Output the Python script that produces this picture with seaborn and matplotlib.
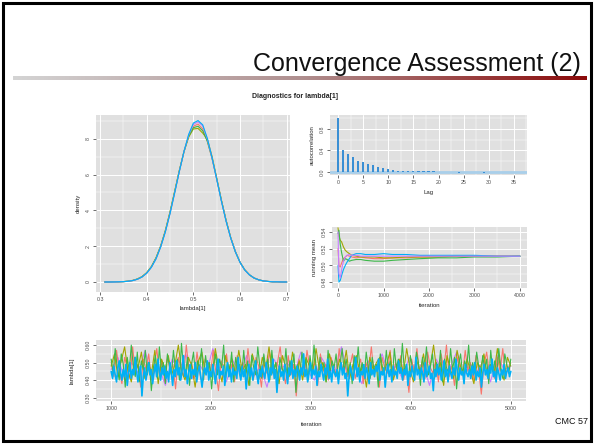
import numpy as np
import pandas as pd
import matplotlib
matplotlib.use("Agg")
import matplotlib.pyplot as plt
from matplotlib.patches import Rectangle
from matplotlib.colors import LinearSegmentedColormap
from matplotlib.ticker import MultipleLocator
import seaborn as sns

# ---------------- data ----------------
chains = ["1", "2", "3", "4", "5"]
chain_colors = ["#F8766D", "#A3A500", "#3DB84A", "#00B0F6", "#C77CFF"]

dens_x = [0.31, 0.32, 0.33, 0.34, 0.35, 0.36, 0.37, 0.38, 0.39, 0.40,
          0.41, 0.42, 0.43, 0.44, 0.45, 0.46, 0.47, 0.48, 0.49, 0.50,
          0.51, 0.52, 0.53, 0.54, 0.55, 0.56, 0.57, 0.58, 0.59, 0.60,
          0.61, 0.62, 0.63, 0.64, 0.65, 0.66, 0.67, 0.68, 0.69, 0.70]
dens_1 = [0.00, 0.00, 0.01, 0.01, 0.02, 0.04, 0.08, 0.16, 0.29, 0.50,
          0.84, 1.32, 1.99, 2.84, 3.86, 5.02, 6.20, 7.28, 8.15, 8.70,
          8.82, 8.55, 7.86, 6.90, 5.75, 4.55, 3.44, 2.47, 1.70, 1.10,
          0.68, 0.40, 0.23, 0.12, 0.06, 0.03, 0.01, 0.01, 0.00, 0.00]
dens_2 = [0.00, 0.00, 0.01, 0.01, 0.02, 0.05, 0.09, 0.17, 0.30, 0.52,
          0.86, 1.35, 2.02, 2.88, 3.92, 5.08, 6.25, 7.30, 8.10, 8.55,
          8.58, 8.32, 7.98, 7.02, 5.80, 4.58, 3.45, 2.48, 1.70, 1.10,
          0.68, 0.40, 0.22, 0.12, 0.06, 0.03, 0.01, 0.01, 0.00, 0.00]
dens_3 = [0.00, 0.00, 0.01, 0.01, 0.02, 0.04, 0.08, 0.16, 0.29, 0.51,
          0.85, 1.34, 2.00, 2.86, 3.90, 5.05, 6.22, 7.30, 8.15, 8.62,
          8.70, 8.45, 7.85, 6.92, 5.78, 4.57, 3.45, 2.48, 1.69, 1.10,
          0.68, 0.40, 0.22, 0.12, 0.06, 0.03, 0.01, 0.01, 0.00, 0.00]
dens_4 = [0.00, 0.00, 0.00, 0.01, 0.02, 0.04, 0.08, 0.15, 0.28, 0.49,
          0.82, 1.29, 1.96, 2.80, 3.82, 4.98, 6.18, 7.30, 8.25, 8.88,
          9.02, 8.78, 8.02, 6.95, 5.74, 4.52, 3.40, 2.45, 1.68, 1.09,
          0.67, 0.40, 0.22, 0.12, 0.06, 0.03, 0.01, 0.01, 0.00, 0.00]
dens_5 = [0.00, 0.00, 0.00, 0.01, 0.02, 0.04, 0.08, 0.15, 0.28, 0.49,
          0.82, 1.30, 1.97, 2.82, 3.84, 5.00, 6.19, 7.30, 8.22, 8.80,
          8.95, 8.72, 7.98, 6.93, 5.74, 4.53, 3.42, 2.46, 1.69, 1.09,
          0.67, 0.40, 0.22, 0.12, 0.06, 0.03, 0.01, 0.01, 0.00, 0.00]

acf_lag = list(range(37))
acf_val = [1.00, 0.40, 0.34, 0.28, 0.21, 0.19, 0.15, 0.13, 0.09, 0.07,
           0.05, 0.035, 0.025, 0.02, 0.015, 0.02, 0.012, 0.015, 0.01, 0.01,
           0.005, 0.008, 0.004, 0.006, -0.01, 0.002, -0.008, 0.004, 0.003, -0.01,
           0.002, -0.005, 0.004, -0.006, 0.003, -0.004, 0.002]

rm_iter = [1, 20, 50, 80, 120, 160, 200, 250, 300, 400, 500, 600, 800,
           1000, 1200, 1500, 1800, 2200, 2600, 3000, 3500, 4000]
rm_1 = [0.520, 0.500, 0.498, 0.503, 0.508, 0.510, 0.512, 0.511, 0.510, 0.509, 0.510,
        0.509, 0.508, 0.508, 0.509, 0.509, 0.510, 0.510, 0.511, 0.511, 0.511, 0.511]
rm_2 = [0.545, 0.535, 0.530, 0.528, 0.522, 0.518, 0.516, 0.514, 0.512, 0.511, 0.510,
        0.510, 0.510, 0.509, 0.509, 0.510, 0.510, 0.510, 0.511, 0.511, 0.511, 0.511]
rm_3 = [0.538, 0.542, 0.525, 0.515, 0.505, 0.508, 0.507, 0.505, 0.506, 0.507, 0.507,
        0.506, 0.505, 0.505, 0.506, 0.507, 0.508, 0.509, 0.509, 0.510, 0.510, 0.511]
rm_4 = [0.500, 0.480, 0.482, 0.488, 0.495, 0.500, 0.504, 0.508, 0.512, 0.514, 0.514,
        0.513, 0.513, 0.514, 0.513, 0.513, 0.512, 0.512, 0.512, 0.512, 0.511, 0.511]
rm_5 = [0.540, 0.490, 0.485, 0.495, 0.505, 0.510, 0.512, 0.513, 0.512, 0.512, 0.511,
        0.511, 0.511, 0.511, 0.511, 0.511, 0.511, 0.511, 0.511, 0.511, 0.511, 0.511]

trace_1 = [0.50, 0.42, 0.57, 0.45, 0.38, 0.53, 0.47, 0.41, 0.59, 0.44,
           0.49, 0.36, 0.52, 0.46, 0.55, 0.40, 0.48, 0.58, 0.43, 0.51,
           0.39, 0.54, 0.45, 0.49, 0.35, 0.53, 0.47, 0.42, 0.60, 0.46,
           0.50, 0.41, 0.56, 0.44, 0.38, 0.52, 0.48, 0.43, 0.57, 0.45,
           0.34, 0.51, 0.47, 0.55, 0.42, 0.49, 0.39, 0.54, 0.46, 0.50,
           0.43, 0.58, 0.45, 0.40, 0.53, 0.48, 0.36, 0.52, 0.44, 0.56,
           0.47, 0.41, 0.50, 0.59, 0.45, 0.38, 0.54, 0.43, 0.49, 0.31,
           0.52, 0.46, 0.42, 0.57, 0.48, 0.44, 0.51, 0.37, 0.55, 0.45,
           0.49, 0.40, 0.53, 0.47, 0.43, 0.58, 0.46, 0.51, 0.42, 0.48,
           0.55, 0.41, 0.47, 0.52, 0.38, 0.50, 0.45, 0.59, 0.43, 0.49,
           0.36, 0.53, 0.47, 0.44, 0.57, 0.41, 0.50, 0.46, 0.54, 0.40,
           0.48, 0.33, 0.52, 0.45, 0.58, 0.43, 0.49, 0.41, 0.56, 0.47,
           0.44, 0.51, 0.39, 0.55, 0.46, 0.60, 0.42, 0.48, 0.37, 0.53,
           0.47, 0.43, 0.57, 0.45, 0.50, 0.40, 0.54, 0.46, 0.32, 0.49,
           0.56, 0.44, 0.48, 0.41, 0.53, 0.45, 0.58, 0.42, 0.47, 0.50]
trace_2 = [0.48, 0.55, 0.42, 0.51, 0.59, 0.45, 0.39, 0.53, 0.47, 0.56,
           0.41, 0.50, 0.44, 0.57, 0.38, 0.52, 0.46, 0.54, 0.43, 0.49,
           0.60, 0.45, 0.40, 0.53, 0.48, 0.36, 0.51, 0.56, 0.44, 0.50,
           0.42, 0.58, 0.47, 0.39, 0.54, 0.46, 0.52, 0.43, 0.57, 0.45,
           0.49, 0.37, 0.55, 0.48, 0.41, 0.53, 0.46, 0.59, 0.44, 0.50,
           0.38, 0.54, 0.47, 0.42, 0.56, 0.45, 0.51, 0.40, 0.53, 0.48,
           0.44, 0.58, 0.46, 0.50, 0.39, 0.55, 0.47, 0.43, 0.52, 0.45,
           0.57, 0.41, 0.49, 0.54, 0.44, 0.48, 0.36, 0.53, 0.46, 0.50,
           0.53, 0.43, 0.49, 0.56, 0.40, 0.47, 0.52, 0.44, 0.58, 0.46,
           0.39, 0.51, 0.45, 0.55, 0.42, 0.48, 0.60, 0.44, 0.50, 0.37,
           0.54, 0.46, 0.41, 0.57, 0.48, 0.43, 0.52, 0.45, 0.38, 0.50,
           0.47, 0.55, 0.42, 0.49, 0.44, 0.58, 0.46, 0.40, 0.53, 0.48]
trace_3 = [0.52, 0.44, 0.58, 0.47, 0.40, 0.55, 0.49, 0.36, 0.53, 0.45,
           0.60, 0.48, 0.42, 0.56, 0.39, 0.51, 0.46, 0.57, 0.43, 0.50,
           0.34, 0.47, 0.54, 0.41, 0.59, 0.45, 0.50, 0.38, 0.55, 0.48,
           0.43, 0.57, 0.46, 0.52, 0.40, 0.61, 0.47, 0.44, 0.53, 0.37,
           0.49, 0.56, 0.42, 0.51, 0.46, 0.58, 0.40, 0.54, 0.45, 0.50,
           0.35, 0.48, 0.55, 0.43, 0.52, 0.47, 0.60, 0.41, 0.50, 0.45,
           0.56, 0.39, 0.53, 0.46, 0.49, 0.42, 0.57, 0.44, 0.51, 0.37,
           0.54, 0.47, 0.43, 0.59, 0.48, 0.41, 0.55, 0.46, 0.52, 0.40,
           0.57, 0.45, 0.50, 0.38, 0.53, 0.47, 0.44, 0.58, 0.42, 0.51,
           0.46, 0.55, 0.33, 0.49, 0.43, 0.56, 0.47, 0.52, 0.40, 0.54,
           0.45, 0.60, 0.48, 0.42, 0.53, 0.46, 0.50, 0.39, 0.57, 0.44,
           0.51, 0.47, 0.55, 0.41, 0.49, 0.58, 0.45, 0.52, 0.43, 0.50,
           0.38, 0.54, 0.46, 0.59, 0.44, 0.50, 0.42, 0.56, 0.47, 0.41,
           0.53, 0.45, 0.49, 0.36, 0.55, 0.48, 0.43, 0.57, 0.46, 0.51,
           0.40, 0.58, 0.47, 0.52, 0.44, 0.61, 0.45, 0.49, 0.39, 0.54,
           0.47, 0.42, 0.56, 0.50, 0.37, 0.53, 0.46, 0.59, 0.43, 0.48,
           0.55, 0.41, 0.50, 0.45, 0.57, 0.39, 0.52, 0.47, 0.44, 0.58,
           0.46, 0.53, 0.35, 0.49, 0.55, 0.43, 0.51, 0.47, 0.60, 0.42,
           0.50, 0.44, 0.56, 0.48, 0.40, 0.54, 0.46, 0.52, 0.38, 0.57,
           0.45, 0.51, 0.43, 0.58, 0.47, 0.41, 0.55, 0.49, 0.44, 0.52]
trace_4 = [0.45, 0.41, 0.48, 0.43, 0.39, 0.47, 0.51, 0.44, 0.40, 0.46,
           0.42, 0.49, 0.37, 0.44, 0.50, 0.41, 0.46, 0.43, 0.53, 0.45,
           0.39, 0.44, 0.48, 0.31, 0.42, 0.47, 0.40, 0.45, 0.50, 0.43,
           0.46, 0.38, 0.44, 0.49, 0.42, 0.52, 0.45, 0.40, 0.47, 0.43,
           0.48, 0.41, 0.45, 0.39, 0.50, 0.44, 0.37, 0.46, 0.42, 0.51,
           0.43, 0.47, 0.40, 0.45, 0.54, 0.42, 0.46, 0.38, 0.44, 0.49,
           0.41, 0.46, 0.43, 0.50, 0.39, 0.45, 0.48, 0.42, 0.36, 0.44,
           0.47, 0.43, 0.51, 0.40, 0.45, 0.42, 0.49, 0.44, 0.38, 0.46,
           0.52, 0.41, 0.45, 0.43, 0.48, 0.37, 0.44, 0.50, 0.42, 0.46,
           0.39, 0.47, 0.43, 0.45, 0.41, 0.53, 0.44, 0.40, 0.48, 0.42,
           0.46, 0.35, 0.44, 0.49, 0.42, 0.47, 0.40, 0.45, 0.51, 0.43,
           0.38, 0.46, 0.42, 0.48, 0.44, 0.41, 0.50, 0.45, 0.39, 0.47,
           0.43, 0.52, 0.41, 0.46, 0.33, 0.44, 0.48, 0.42, 0.45, 0.40,
           0.49, 0.44, 0.38, 0.47, 0.43, 0.51, 0.41, 0.46, 0.42, 0.48,
           0.45, 0.40, 0.47, 0.43, 0.55, 0.42, 0.46, 0.39, 0.44, 0.50,
           0.41, 0.46, 0.43, 0.48, 0.37, 0.45, 0.42, 0.49, 0.44, 0.40,
           0.47, 0.43, 0.52, 0.41, 0.45, 0.39, 0.48, 0.44, 0.42, 0.46,
           0.38, 0.45, 0.50, 0.43, 0.47, 0.41, 0.44, 0.31, 0.42, 0.48,
           0.44, 0.40, 0.46, 0.53, 0.42, 0.47, 0.39, 0.45, 0.43, 0.49,
           0.41, 0.47, 0.44, 0.38, 0.50, 0.43, 0.46, 0.42, 0.48, 0.45,
           0.52, 0.40, 0.45, 0.43, 0.47, 0.36, 0.44, 0.49, 0.42, 0.46,
           0.39, 0.48, 0.43, 0.45, 0.41, 0.51, 0.44, 0.47, 0.40, 0.46,
           0.43, 0.49, 0.37, 0.45, 0.42, 0.48, 0.44, 0.40, 0.53, 0.43,
           0.46, 0.41, 0.47, 0.44, 0.39, 0.50, 0.42, 0.45, 0.48, 0.41,
           0.44, 0.34, 0.46, 0.42, 0.49, 0.43, 0.47, 0.40, 0.45, 0.51,
           0.42, 0.46, 0.39, 0.48, 0.44, 0.41, 0.47, 0.43, 0.52, 0.45,
           0.40, 0.47, 0.43, 0.45, 0.38, 0.49, 0.44, 0.42, 0.46, 0.41,
           0.48, 0.43, 0.50, 0.40, 0.45, 0.42, 0.47, 0.36, 0.44, 0.49,
           0.43, 0.46, 0.41, 0.48, 0.44, 0.52, 0.42, 0.45, 0.39, 0.47,
           0.44, 0.40, 0.46, 0.43, 0.49, 0.41, 0.45, 0.47, 0.42, 0.45]
trace_5 = [0.46, 0.53, 0.40, 0.50, 0.44, 0.57, 0.42, 0.48, 0.37, 0.52,
           0.45, 0.55, 0.41, 0.49, 0.43, 0.58, 0.47, 0.39, 0.51, 0.44,
           0.54, 0.42, 0.48, 0.36, 0.52, 0.46, 0.50, 0.43, 0.56, 0.45,
           0.40, 0.53, 0.47, 0.44, 0.59, 0.42, 0.49, 0.38, 0.51, 0.46,
           0.55, 0.43, 0.48, 0.41, 0.53, 0.45, 0.50, 0.37, 0.52, 0.44,
           0.47, 0.56, 0.42, 0.49, 0.45, 0.51, 0.39, 0.54, 0.46, 0.48]

dens_ticks = [0.3, 0.4, 0.5, 0.6, 0.7]
dens_yticks = [0, 2, 4, 6, 8]
acf_xticks = [0, 5, 10, 15, 20, 25, 30, 35]
acf_yticks = [0.0, 0.4, 0.8]
rm_xticks = [0, 1000, 2000, 3000, 4000]
rm_yticks = [0.48, 0.50, 0.52, 0.54]
tr_xticks = [1000, 2000, 3000, 4000, 5000]
tr_yticks = [0.3, 0.4, 0.5, 0.6]

slide_title = "Convergence Assessment (2)"
fig_title = "Diagnostics for lambda[1]"
footer = "CMC 57"

# ---------------- frames ----------------
dens_df = pd.concat([pd.DataFrame({"x": dens_x, "y": d, "chain": c})
                     for c, d in zip(chains, [dens_1, dens_2, dens_3, dens_4, dens_5])])
rm_df = pd.concat([pd.DataFrame({"iteration": rm_iter, "mean": r, "chain": c})
                   for c, r in zip(chains, [rm_1, rm_2, rm_3, rm_4, rm_5])])
traces = [trace_1, trace_2, trace_3, trace_4, trace_5]
tr_df = pd.concat([pd.DataFrame({"iteration": np.linspace(1000, 5000, len(t)), "value": t, "chain": c})
                   for c, t in zip(chains, traces)])
acf_df = pd.DataFrame({"lag": acf_lag, "acf": acf_val})
palette = dict(zip(chains, chain_colors))

# ---------------- figure ----------------
sns.set_theme(style="darkgrid")
plt.rcParams["font.family"] = ["Liberation Sans", "DejaVu Sans"]
W, H = 594, 445
fig = plt.figure(figsize=(W / 100, H / 100), dpi=100)
fig.patch.set_facecolor("white")


def rect(l, t, r, b):
    return [l / W, 1 - b / H, (r - l) / W, (b - t) / H]


def style(ax):
    ax.set_facecolor("#E0E0E0")
    ax.set_axisbelow(True)
    for s in ax.spines.values():
        s.set_visible(False)
    ax.grid(which="major", color="white", lw=0.7)
    ax.grid(which="minor", color="white", lw=0.35)
    ax.tick_params(which="major", length=2, width=0.5, color="#333333", labelsize=3.8,
                   labelcolor="#4D4D4D", pad=1.5, bottom=True, left=True)
    ax.tick_params(which="minor", length=0)
    for lab in ax.get_yticklabels():
        lab.set_rotation(90)
        lab.set_va("center")


# density
ax1 = fig.add_axes(rect(96, 115, 290, 292))
hue_order_d = ["1", "2", "3", "5", "4"]
sns.lineplot(data=dens_df, x="x", y="y", hue="chain", hue_order=hue_order_d, palette=palette,
             estimator=None, lw=0.8, legend=False, ax=ax1)
ax1.set_xlim(0.2914, 0.707)
ax1.set_ylim(-0.56, 9.33)
ax1.set_xticks(dens_ticks)
ax1.set_yticks(dens_yticks)
ax1.xaxis.set_minor_locator(MultipleLocator(0.05))
ax1.yaxis.set_minor_locator(MultipleLocator(1))
ax1.set_xlabel("lambda[1]", fontsize=4.3, labelpad=3)
ax1.set_ylabel("density", fontsize=4.3, labelpad=4)
style(ax1)

# autocorrelation
ax2 = fig.add_axes(rect(330, 115, 527, 175))
ax2.axhline(0, color="#A9CFEA", lw=2.0, zorder=1.5)
sns.barplot(data=acf_df, x="lag", y="acf", native_scale=True, color="#3A8FD4",
            width=0.42, saturation=1, linewidth=0, edgecolor="#3A8FD4", ax=ax2)
for p in ax2.patches:
    p.set_zorder(3)
ax2.set_xlim(-1.6, 37.6)
ax2.set_ylim(-0.056, 1.06)
ax2.set_xticks(acf_xticks)
ax2.set_xticklabels([str(v) for v in acf_xticks])
ax2.set_yticks(acf_yticks)
ax2.set_yticklabels(["0.0", "0.4", "0.8"])
ax2.xaxis.set_minor_locator(MultipleLocator(2.5))
ax2.yaxis.set_minor_locator(MultipleLocator(0.2))
ax2.set_xlabel("Lag", fontsize=4.3, labelpad=4)
ax2.set_ylabel("autocorrelation", fontsize=4.3, labelpad=4)
style(ax2)

# running mean
ax3 = fig.add_axes(rect(332, 227, 527, 288))
sns.lineplot(data=rm_df, x="iteration", y="mean", hue="chain", palette=palette,
             estimator=None, lw=0.8, legend=False, ax=ax3)
ax3.set_xlim(-132, 4154)
ax3.set_ylim(0.4729, 0.5459)
ax3.set_xticks(rm_xticks)
ax3.set_yticks(rm_yticks)
ax3.set_yticklabels(["0.48", "0.50", "0.52", "0.54"])
ax3.xaxis.set_minor_locator(MultipleLocator(500))
ax3.yaxis.set_minor_locator(MultipleLocator(0.01))
ax3.set_xlabel("iteration", fontsize=4.3, labelpad=4)
ax3.set_ylabel("running mean", fontsize=4.3, labelpad=4)
style(ax3)

# trace
ax4 = fig.add_axes(rect(96, 340, 526, 401))
sns.lineplot(data=tr_df[tr_df["chain"] != "4"], x="iteration", y="value", hue="chain",
             hue_order=["5", "1", "2", "3"], palette=palette,
             estimator=None, sort=False, lw=0.8, legend=False, ax=ax4)
sns.lineplot(data=tr_df[tr_df["chain"] == "4"], x="iteration", y="value", hue="chain",
             palette=palette, estimator=None, sort=False, lw=1.2, legend=False, ax=ax4)
ax4.set_xlim(848, 5152)
ax4.set_ylim(0.281, 0.629)
ax4.set_xticks(tr_xticks)
ax4.set_yticks(tr_yticks)
ax4.set_yticklabels(["0.30", "0.40", "0.50", "0.60"])
ax4.xaxis.set_minor_locator(MultipleLocator(500))
ax4.yaxis.set_minor_locator(MultipleLocator(0.05))
ax4.set_xlabel("iteration", fontsize=4.3, labelpad=8)
ax4.set_ylabel("lambda[1]", fontsize=4.3, labelpad=8)
style(ax4)

# slide decorations
cmap = LinearSegmentedColormap.from_list("bar", ["#D4D4D4", "#B09090", "#8B0A0A"])
axg = fig.add_axes(rect(13, 76, 587, 80))
axg.imshow(np.linspace(0, 1, 256)[None, :], aspect="auto", cmap=cmap)
axg.axis("off")

fig.text(581 / W, 1 - 71 / H, slide_title, ha="right", va="baseline", fontsize=18,
         color="#111111")
fig.text(295 / W, 1 - 97 / H, fig_title, ha="center", va="center", fontsize=5,
         fontweight="bold", color="#222222")
fig.text(588 / W, 1 - 421 / H, footer, ha="right", va="center", fontsize=6.5, color="#111111")

fig.patches.append(Rectangle((3 / W, 4 / H), 588 / W, 438 / H, transform=fig.transFigure,
                             fill=False, lw=2.2, ec="black"))

fig.savefig("out.png", dpi=100)
